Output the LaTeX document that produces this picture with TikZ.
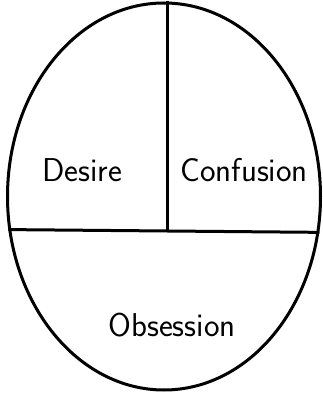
\documentclass[tikz,border=0pt]{standalone}
\usetikzlibrary{shapes.geometric}

\begin{document}
\begin{tikzpicture}[x=1pt,y=1pt,line width=3pt,part/.style={font=\sffamily\fontsize{33}{33}\selectfont}]
\useasboundingbox (0,0) rectangle (323,394);
\node[ellipse,draw,minimum width=313pt,minimum height=387pt,inner sep=0pt] (oval) at (164,197.5) {};
\coordinate (mid) at (167,163);
\draw (oval.192.6) -- (oval.347.4);
\draw (mid |- oval.north) -- (mid);
\node[part] (desire) at (82,224) {Desire};
\node[part] (confusion) at (244,224) {Confusion};
\node[part] (obsession) at (172,69) {Obsession};
\end{tikzpicture}
\end{document}
